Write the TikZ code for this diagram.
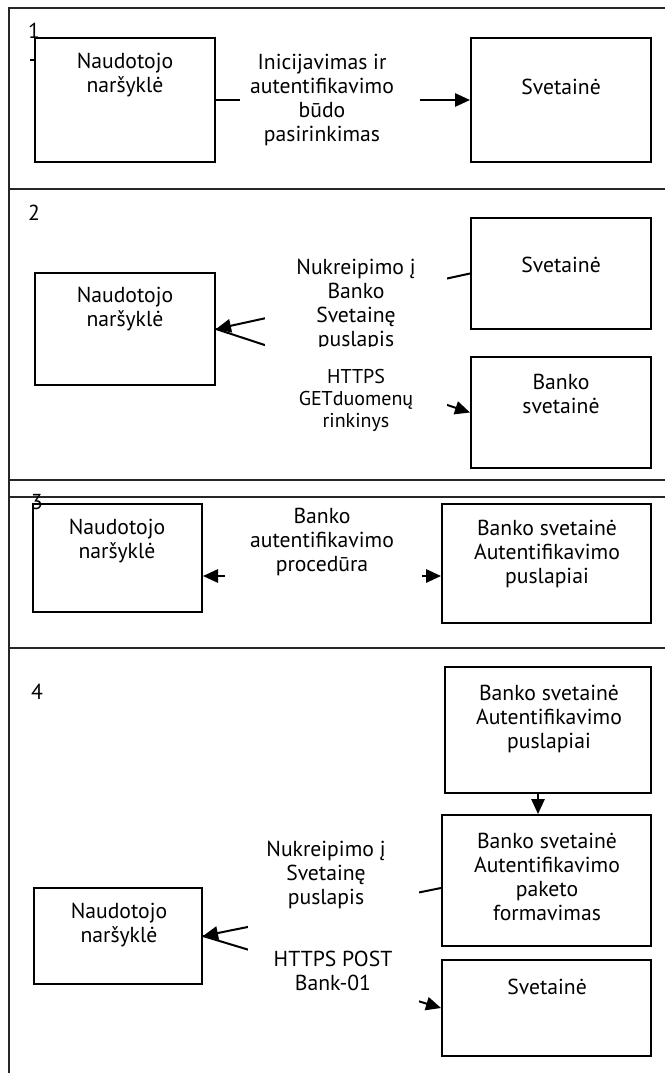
\documentclass[tikz,border=0pt]{standalone}
\usepackage{fontspec}
\setmainfont{PT Sans}
\usetikzlibrary{arrows.meta}
\newlength{\pk}
\setlength{\pk}{0.6pt}
\tikzset{
	blokas/.style={draw,line width=1.2pt,inner sep=0pt},
	tekstas/.style={align=center,inner sep=0pt,font=\fontsize{13pt}{14.4pt}\selectfont},
	mazas/.style={align=center,inner sep=0pt,font=\fontsize{12pt}{13.2pt}\selectfont},
	rodykle/.style={line width=1.2pt,-{Triangle[length=9pt,width=8pt]}},
	abi/.style={line width=1.2pt,{Triangle[length=9pt,width=8pt]}-{Triangle[length=9pt,width=8pt]}},
	ramas/.style={line width=1pt,draw=black!85}
}

\begin{document}
\begin{tikzpicture}[x=0.6pt,y=-0.6pt]
			\useasboundingbox (0,0) rectangle (665,1073);
			% Frame of the four steps
			\draw[ramas] (9,1080) -- (9,8) -- (670,8);
			\foreach \y in {189,480,497,648}
				\draw[ramas] (9,\y) -- (670,\y);
			\node[tekstas] (n1) at (34,31) {1};
			\node[tekstas] (n2) at (34,213) {2};
			\node[tekstas] (n3) at (37,502) {3};
			\node[tekstas] (n4) at (37,692) {4};
			\draw[line width=0.8pt] (30,60) -- (35,60);

			% Boxes
			\node[blokas,minimum width=180\pk,minimum height=124\pk] (nar1) at (125,100) {};
			\node[blokas,minimum width=180\pk,minimum height=124\pk] (svet1) at (561,100) {};
			\node[blokas,minimum width=180\pk,minimum height=112\pk] (nar2) at (125,329) {};
			\node[blokas,minimum width=180\pk,minimum height=111\pk] (svet2) at (561,273.5) {};
			\node[blokas,minimum width=180\pk,minimum height=111\pk] (bank2) at (561,412.5) {};
			\node[blokas,minimum width=169\pk,minimum height=108\pk] (nar3) at (117.5,558) {};
			\node[blokas,minimum width=209\pk,minimum height=119\pk] (bank3) at (546.5,563.5) {};
			\node[blokas,minimum width=206\pk,minimum height=126\pk] (bank4a) at (548,730) {};
			\node[blokas,minimum width=209\pk,minimum height=131\pk] (bank4b) at (546.5,880.5) {};
			\node[blokas,minimum width=168\pk,minimum height=96\pk] (nar4) at (118,936) {};
			\node[blokas,minimum width=209\pk,minimum height=96\pk] (svet4) at (546.5,1008) {};

			% Texts in the boxes
			\node[tekstas] (nar1t) at (125,75) {Naudotojo\\naršyklė};
			\node[tekstas] (svet1t) at (561,87) {Svetainė};
			\node[tekstas] (nar2t) at (125,309.5) {Naudotojo\\naršyklė};
			\node[tekstas] (svet2t) at (561,265) {Svetainė};
			\node[tekstas] (bank2t) at (561,393.5) {Banko\\svetainė};
			\node[tekstas] (nar3t) at (117,541) {Naudotojo\\naršyklė};
			\node[tekstas] (bank3t) at (547,553.5) {Banko svetainė\\Autentifikavimo\\puslapiai};
			\node[tekstas] (bank4at) at (549,718.5) {Banko svetainė\\Autentifikavimo\\puslapiai};
			\node[tekstas] (bank4bt) at (547,877) {Banko svetainė\\Autentifikavimo\\paketo\\formavimas};
			\node[tekstas] (nar4t) at (119,925) {Naudotojo\\naršyklė};
			\node[tekstas] (svet4t) at (547,987) {Svetainė};

			% Connectors
			\coordinate (y3) at (0,576);
			\coordinate (y4) at (0,888);
			\coordinate (k4) at ([xshift=-10\pk]bank4a.south);
			\draw[rodykle] (nar1.east) -- (svet1.west);
			\draw[rodykle] (svet2.west) -- (nar2.east);
			\draw[rodykle] (nar2.east) -- (bank2.west);
			\draw[abi] (nar3.east |- y3) -- (bank3.west |- y3);
			\draw[rodykle] (k4) -- (k4 |- bank4b.north);
			\draw[rodykle] (bank4b.west |- y4) -- (nar4.east);
			\draw[rodykle] (nar4.east) -- (svet4.west);

			% Labels over the connectors
			\fill[white] (240,50) rectangle (420,150);
			\fill[white] (265,250) rectangle (447,440);
			\fill[white] (225,510) rectangle (422,600);
			\fill[white] (248,835) rectangle (419,1003);
			\node[tekstas] (zin1) at (322,99.5) {Inicijavimas ir\\autentifikavimo\\būdo\\pasirinkimas};
			\begin{scope}
				\clip (265,250) rectangle (447,346);
				\node[tekstas] (zin2a) at (356,305) {Nukreipimo į\\Banko\\Svetainę\\puslapis};
			\end{scope}
			\node[mazas] (zin2b) at (356,400) {HTTPS\\GETduomenų\\rinkinys};
			\node[tekstas] (zin3) at (322,542) {Banko\\autentifikavimo\\procedūra};
			\node[tekstas] (zin4a) at (326,875) {Nukreipimo į\\Svetainę\\puslapis};
			\node[tekstas] (zin4b) at (333,970.5) {HTTPS POST\\Bank-01};
\end{tikzpicture}
\end{document}
